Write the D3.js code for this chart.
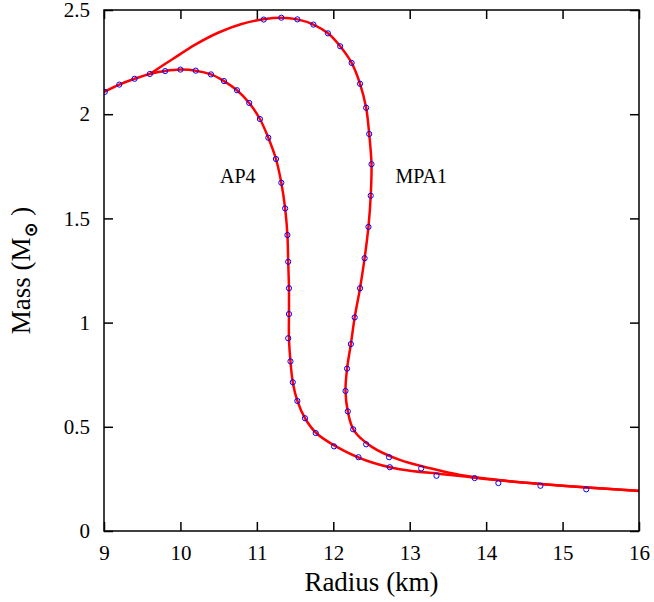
<!DOCTYPE html>
<html>
<head>
<meta charset="utf-8">
<script src="https://cdnjs.cloudflare.com/ajax/libs/d3/7.8.5/d3.min.js"></script>
<style>
  body { margin: 0; background: #fff; }
</style>
</head>
<body>
<div class="chart"></div>
<script>
// AP4 curve (line) and its computed points (markers)
var ap4LineR = [9.00, 9.20, 9.40, 9.60, 9.80, 10.00, 10.20, 10.40, 10.57, 10.74, 10.90, 11.04, 11.15, 11.25,
  11.32, 11.37, 11.40, 11.41, 11.42, 11.42, 11.42, 11.44, 11.47, 11.53, 11.63, 11.78, 12.04, 12.44, 12.87,
  13.40, 13.66, 14.16, 15.00, 16.00];
var ap4LineM = [2.107, 2.142, 2.170, 2.193, 2.207, 2.214, 2.209, 2.191, 2.159, 2.115, 2.054, 1.977, 1.887, 1.785,
  1.671, 1.548, 1.420, 1.292, 1.165, 1.041, 0.925, 0.814, 0.714, 0.624, 0.541, 0.469, 0.405, 0.337, 0.296,
  0.274, 0.264, 0.243, 0.217, 0.192];

var ap4PtR = [9.01, 9.20, 9.40, 9.60, 9.80, 10.00, 10.20, 10.40, 10.57, 10.74, 10.90, 11.04, 11.15, 11.25,
  11.32, 11.37, 11.40, 11.41, 11.42, 11.42, 11.41, 11.44, 11.47, 11.53, 11.63, 11.77, 12.01, 12.33, 12.74,
  13.35, 14.16, 15.31];
var ap4PtM = [2.107, 2.142, 2.170, 2.193, 2.207, 2.214, 2.209, 2.191, 2.159, 2.115, 2.054, 1.977, 1.887, 1.785,
  1.671, 1.548, 1.420, 1.292, 1.165, 1.041, 0.925, 0.814, 0.714, 0.624, 0.541, 0.470, 0.406, 0.354, 0.306,
  0.265, 0.230, 0.200];

// MPA1 curve (line) and its points
var mpa1LineR = [9.60, 9.90, 10.20, 10.50, 10.80, 11.09, 11.32, 11.53, 11.74, 11.93, 12.09, 12.24, 12.35, 12.43,
  12.47, 12.50, 12.49, 12.46, 12.41, 12.35, 12.28, 12.23, 12.18, 12.16, 12.19, 12.27, 12.50, 12.87, 13.27,
  13.66, 14.16, 15.00, 16.00];
var mpa1LineM = [2.193, 2.265, 2.335, 2.392, 2.433, 2.456, 2.463, 2.455, 2.430, 2.388, 2.326, 2.246, 2.146, 2.031,
  1.905, 1.760, 1.609, 1.459, 1.309, 1.165, 1.025, 0.897, 0.779, 0.672, 0.574, 0.483, 0.405, 0.341, 0.301,
  0.269, 0.245, 0.217, 0.193];

var mpa1PtR = [11.09, 11.32, 11.53, 11.74, 11.93, 12.09, 12.24, 12.35, 12.43, 12.47, 12.50, 12.49, 12.46, 12.41,
  12.35, 12.28, 12.23, 12.18, 12.16, 12.19, 12.26, 12.43, 12.73, 13.15, 13.85, 14.71];
var mpa1PtM = [2.454, 2.463, 2.455, 2.430, 2.388, 2.326, 2.246, 2.146, 2.031, 1.905, 1.760, 1.609, 1.459, 1.309,
  1.165, 1.025, 0.897, 0.779, 0.672, 0.574, 0.488, 0.416, 0.354, 0.300, 0.254, 0.217];

var xTicks = [9, 10, 11, 12, 13, 14, 15, 16];
var yTicks = [0, 0.5, 1, 1.5, 2, 2.5];
var curveNames = ["AP4", "MPA1"];

function init() {
  var w = 654;
  var h = 602;
  var left = 104, right = 639, top = 10, bottom = 531;
  var serif = "'Liberation Serif', 'Times New Roman', Times, 'DejaVu Serif', serif";

  var xScale = d3.scaleLinear().domain([9, 16]).range([left, right]);
  var yScale = d3.scaleLinear().domain([0, 2.5]).range([bottom, top]);

  var svg = d3.select(".chart")
    .append("svg")
    .attr("width", w)
    .attr("height", h)
    .attr("font-family", serif);

  svg.append("defs").append("clipPath")
    .attr("id", "plotClip")
    .append("rect")
    .attr("x", left).attr("y", top)
    .attr("width", right - left).attr("height", bottom - top);

  function pairs(rs, ms) {
    return rs.map(function(r, i) { return [r, ms[i]]; });
  }

  var line = d3.line()
    .x(function(d) { return xScale(d[0]); })
    .y(function(d) { return yScale(d[1]); })
    .curve(d3.curveCatmullRom.alpha(0.5));

  var plot = svg.append("g").attr("clip-path", "url(#plotClip)");

  [pairs(ap4LineR, ap4LineM), pairs(mpa1LineR, mpa1LineM)].forEach(function(pts) {
    plot.append("path")
      .datum(pts)
      .attr("d", line)
      .attr("fill", "none")
      .attr("stroke", "#ff0000")
      .attr("stroke-width", 2.5)
      .attr("stroke-linejoin", "round");
  });

  var markers = pairs(ap4PtR, ap4PtM).concat(pairs(mpa1PtR, mpa1PtM));
  plot.selectAll("circle")
    .data(markers)
    .enter()
    .append("circle")
    .attr("cx", function(d) { return xScale(d[0]); })
    .attr("cy", function(d) { return yScale(d[1]); })
    .attr("r", 2.6)
    .attr("fill", "none")
    .attr("stroke", "#0000ff")
    .attr("stroke-width", 1);

  // axes, ticks pointing inward, mirrored on top/right
  var fmt = function(d) { return d3.format("")(d); };

  svg.append("g")
    .attr("transform", "translate(0," + bottom + ")")
    .call(d3.axisBottom(xScale).tickValues(xTicks).tickFormat(fmt).tickSizeInner(-9).tickSizeOuter(0).tickPadding(14));
  svg.append("g")
    .attr("transform", "translate(0," + top + ")")
    .call(d3.axisTop(xScale).tickValues(xTicks).tickFormat("").tickSizeInner(-9).tickSizeOuter(0));
  svg.append("g")
    .attr("transform", "translate(" + left + ",0)")
    .call(d3.axisLeft(yScale).tickValues(yTicks).tickFormat(fmt).tickSizeInner(-9).tickSizeOuter(0).tickPadding(14));
  svg.append("g")
    .attr("transform", "translate(" + right + ",0)")
    .call(d3.axisRight(yScale).tickValues(yTicks).tickFormat("").tickSizeInner(-9).tickSizeOuter(0));

  svg.selectAll(".domain").remove();
  svg.selectAll(".tick line").attr("stroke", "#000").attr("stroke-width", 1.5);
  svg.selectAll("g.tick").select(function() { return this.parentNode; })
    .attr("font-family", serif)
    .attr("font-size", 21);
  svg.selectAll(".tick text").attr("fill", "#000");

  svg.append("rect")
    .attr("x", left).attr("y", top)
    .attr("width", right - left).attr("height", bottom - top)
    .attr("fill", "none")
    .attr("stroke", "#000")
    .attr("stroke-width", 1.5);

  // curve names
  svg.selectAll(".curveName")
    .data(curveNames)
    .enter()
    .append("text")
    .attr("class", "curveName")
    .attr("x", function(d, i) { return xScale(i === 0 ? 10.75 : 13.15); })
    .attr("y", yScale(1.67))
    .attr("text-anchor", "middle")
    .attr("font-size", 20)
    .text(function(d) { return d; });

  // axis titles
  svg.append("text")
    .attr("x", (left + right) / 2)
    .attr("y", 591)
    .attr("text-anchor", "middle")
    .attr("font-size", 27)
    .text("Radius (km)");

  var yTitle = svg.append("text")
    .attr("transform", "translate(30," + ((top + bottom) / 2) + ") rotate(-90)")
    .attr("text-anchor", "middle")
    .attr("font-size", 27);
  yTitle.append("tspan").text("Mass (M");
  yTitle.append("tspan")
    .attr("dy", 7)
    .attr("font-size", 18)
    .attr("font-weight", "bold")
    .attr("font-family", "'DejaVu Sans', sans-serif")
    .text("\u2299");
  yTitle.append("tspan").attr("dy", -7).text(" )");
}

window.onload = init;
</script>
</body>
</html>
